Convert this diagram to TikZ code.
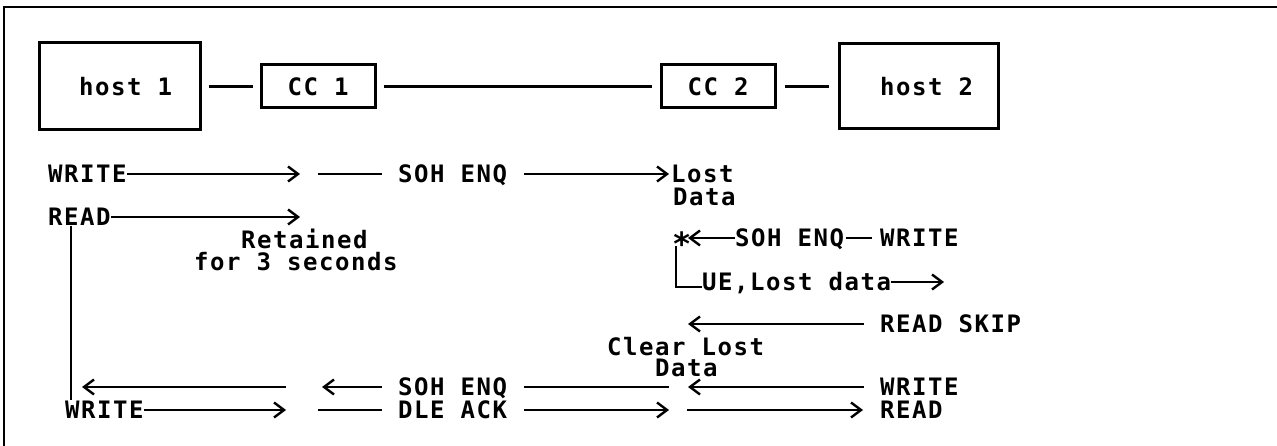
\documentclass[tikz,border=0pt]{standalone}
\usepackage{fontspec}
\newfontfamily\dmono{DejaVu Sans Mono}[LetterSpace=6.5]
\usetikzlibrary{arrows.meta}
\newcommand{\lblfont}{\dmono\bfseries\fontsize{24pt}{26pt}\selectfont}
\begin{document}
\begin{tikzpicture}[x=1pt,y=-1pt,
  lbl/.style={font=\lblfont, inner sep=0pt, text height=17pt, text depth=0pt, anchor=west},
  box/.style={draw, line width=3pt, inner sep=0pt, font=\lblfont},
  ln/.style={line width=2.4pt},
  arr/.style={line width=2.4pt, -{Straight Barb[length=10pt,width=15pt]}},
  frame/.style={line width=2.8pt}
  ]
\useasboundingbox (0,0) rectangle (1277,446);
\coordinate (f1) at (1277,7);
\coordinate (f2) at (4,7);
\coordinate (f3) at (4,446);
\draw[frame] (f1) -- (f2) -- (f3);

% boxes
\node[box, minimum width=161pt, minimum height=87pt] (h1) at (119.5,86.5) {\hspace*{12pt}host 1};
\node[box, minimum width=114pt, minimum height=43pt] (cc1) at (318,86.5) {CC 1};
\node[box, minimum width=114pt, minimum height=43pt] (cc2) at (718,86.5) {CC 2};
\node[box, minimum width=159pt, minimum height=85pt] (h2) at (918.5,86.5) {\hspace*{16pt}host 2};
\draw[ln, shorten <=7pt, shorten >=7pt] (h1) -- (cc1);
\draw[ln, shorten <=7pt, shorten >=8pt] (cc1) -- (cc2);
\draw[ln, shorten <=8pt, shorten >=9pt] (cc2) -- (h2);

% row 1
\node[lbl] (w1) at (48,174) {WRITE};
\coordinate (w1e) at (300,174);
\draw[arr] (w1.east) -- (w1e);
\node[lbl] (s1) at (398,174) {SOH ENQ};
\coordinate (s1w) at (318,174);
\draw[ln] (s1w) -- ([xshift=-16pt]s1.west);
\node[lbl] (lost1) at (671,174) {Lost};
\node[lbl] (data1) at (673,197) {Data};
\draw[arr] ([xshift=17pt]s1.east) -- ([xshift=-2pt]lost1.west);

% row 2
\node[lbl] (r1) at (48,217) {READ};
\coordinate (r1e) at (300,217);
\draw[arr] (r1.east) -- (r1e);
\coordinate (vb) at (71,400);
\draw[ln] (r1.south -| vb) -- (vb);
\node[lbl] (ret) at (241,240) {Retained};
\node[lbl] (for3) at (194,262) {for 3 seconds};

% right side
\node[lbl] (star) at (672,238) {\fontsize{32pt}{32pt}\selectfont\raisebox{-9pt}{*}};
\node[lbl] (s2) at (735,238) {SOH ENQ};
\node[lbl] (w2) at (880,238) {WRITE};
\draw[ln] ([xshift=-8pt]w2.west) -- ([xshift=2pt]s2.east);
\coordinate (stt) at (688,238);
\draw[arr] (s2.west) -- (stt);
\node[lbl] (ue) at (702,282) {UE,Lost data};
\coordinate (stb) at (676,246);
\draw[ln] (stb) |- ([yshift=-5pt]ue.west);
\coordinate (uee) at (944,282);
\draw[arr] (ue.east) -- (uee);

\node[lbl] (rs) at (880,324) {READ SKIP};
\coordinate (rsw) at (688,324);
\draw[arr] ([xshift=-16pt]rs.west) -- (rsw);

\node[lbl] (cl) at (607,347) {Clear Lost};
\node[lbl] (cd) at (655,368) {Data};

% row A
\coordinate (a1) at (286,387);
\coordinate (a2) at (82,387);
\draw[arr] (a1) -- (a2);
\node[lbl] (s3) at (398,387) {SOH ENQ};
\coordinate (a3) at (322,387);
\draw[arr] ([xshift=-16pt]s3.west) -- (a3);
\coordinate (a4) at (669,387);
\draw[ln] ([xshift=17pt]s3.east) -- (a4);
\node[lbl] (w3) at (880,387) {WRITE};
\coordinate (a5) at (688,387);
\draw[arr] ([xshift=-16pt]w3.west) -- (a5);

% row B
\node[lbl] (w4) at (65,410) {WRITE};
\coordinate (b1) at (286,410);
\draw[arr] (w4.east) -- (b1);
\node[lbl] (dle) at (398,410) {DLE ACK};
\coordinate (b2) at (318,410);
\draw[ln] (b2) -- ([xshift=-16pt]dle.west);
\coordinate (b3) at (669,410);
\draw[arr] ([xshift=17pt]dle.east) -- (b3);
\node[lbl] (rd4) at (880,410) {READ};
\coordinate (b4) at (687,410);
\draw[arr] (b4) -- ([xshift=-17pt]rd4.west);
\end{tikzpicture}
\end{document}
